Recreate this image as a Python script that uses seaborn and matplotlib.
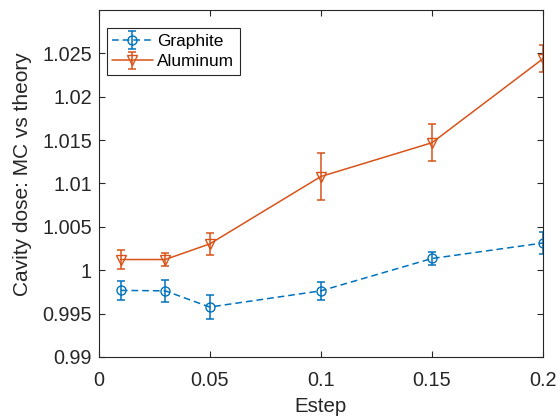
import matplotlib
matplotlib.use("Agg")
import matplotlib.pyplot as plt
import seaborn as sns
import pandas as pd
from matplotlib.legend_handler import HandlerTuple

# ---- data ----
estep = [0.01, 0.03, 0.05, 0.10, 0.15, 0.20]
graphite = [0.99767, 0.99762, 0.99575, 0.99762, 1.00135, 1.00314]
graphite_err = [0.00110, 0.00124, 0.00134, 0.00100, 0.00073, 0.00130]
aluminum = [1.00123, 1.00123, 1.00303, 1.01080, 1.01470, 1.02440]
aluminum_err = [0.00105, 0.00070, 0.00124, 0.00268, 0.00210, 0.00153]

xticks = [0, 0.05, 0.10, 0.15, 0.20]
xtick_labels = ["0", "0.05", "0.1", "0.15", "0.2"]
yticks = [0.99, 0.995, 1.0, 1.005, 1.01, 1.015, 1.02, 1.025]
ytick_labels = ["0.99", "0.995", "1", "1.005", "1.01", "1.015", "1.02", "1.025"]

sns.set_style("ticks")
plt.rcParams["font.family"] = ["Liberation Sans", "DejaVu Sans"]

blue = "#0072BD"
orange = "#D95319"
dark = "#262626"

fig = plt.figure(figsize=(5.6, 4.16), dpi=100)
ax = fig.add_axes([0.176, 0.142, 0.794, 0.834])

df = pd.DataFrame({
    "Estep": estep * 2,
    "value": graphite + aluminum,
    "material": ["Graphite"] * len(estep) + ["Aluminum"] * len(estep),
})

dash = (4.4, 2.6)
sns.lineplot(data=df, x="Estep", y="value", hue="material", style="material",
             palette={"Graphite": blue, "Aluminum": orange},
             markers={"Graphite": "o", "Aluminum": "v"},
             dashes={"Graphite": dash, "Aluminum": ""},
             markersize=6.5, markerfacecolor="none", markeredgewidth=1.0,
             linewidth=1.1, legend=False, ax=ax)
for ln, c in zip(ax.lines, [blue, orange]):
    ln.set_markeredgecolor(c)
    ln.set_markerfacecolor("none")

eb_g = ax.errorbar(estep, graphite, yerr=graphite_err, fmt="none", ecolor=blue,
                   elinewidth=1.1, capsize=3, capthick=1.1)
eb_a = ax.errorbar(estep, aluminum, yerr=aluminum_err, fmt="none", ecolor=orange,
                   elinewidth=1.1, capsize=3, capthick=1.1)

ax.set_xlim(0, 0.2)
ax.set_ylim(0.99, 1.03)
ax.set_xticks(xticks)
ax.set_xticklabels(xtick_labels)
ax.set_yticks(yticks)
ax.set_yticklabels(ytick_labels)

for s in ax.spines.values():
    s.set_visible(True)
    s.set_color(dark)
    s.set_linewidth(0.8)
ax.tick_params(direction="in", length=4, width=0.8, color=dark,
               labelsize=14.3, labelcolor=dark, top=True, right=True)
ax.tick_params(axis="x", pad=10.0)
ax.tick_params(axis="y", pad=4.8)

xl = ax.set_xlabel("Estep", fontsize=14.8, color=dark)
xl.set_va("top")
ax.xaxis.set_label_coords(0.5, -0.1144)
yl = ax.set_ylabel("Cavity dose: MC vs theory", fontsize=15, color=dark)
yl.set_va("center")
ax.yaxis.set_label_coords(-0.170, 0.526)

lg_line = matplotlib.lines.Line2D([], [], color=blue, linestyle=(0, dash), linewidth=1.1,
                                  marker="o", markersize=6.5, markerfacecolor="none",
                                  markeredgecolor=blue)
la_line = matplotlib.lines.Line2D([], [], color=orange, linestyle="-", linewidth=1.1,
                                  marker="v", markersize=6.5, markerfacecolor="none",
                                  markeredgecolor=orange)
leg = ax.legend([(eb_g, lg_line), (eb_a, la_line)], ["Graphite", "Aluminum"],
                handler_map={tuple: HandlerTuple(ndivide=1, pad=0)},
                loc="upper left", bbox_to_anchor=(0.018, 0.947),
                fontsize=12.4, frameon=True, fancybox=False, framealpha=1,
                edgecolor=dark, handlelength=2.36, handletextpad=0.25,
                borderpad=0.32, labelspacing=0.3, borderaxespad=0)
leg.get_frame().set_linewidth(0.8)
for t in leg.get_texts():
    t.set_color("black")

fig.savefig("out.png", dpi=100)
